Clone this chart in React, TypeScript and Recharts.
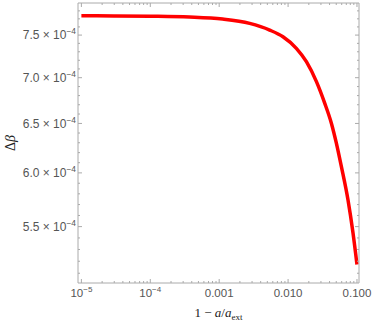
import { Line, LineChart, XAxis, YAxis } from "recharts";

// 1 - a/a_ext (log axis)
const oneMinusA = [
  1e-5, 3e-5, 1e-4, 3.7e-4, 1.12e-3, 2.77e-3, 5.41e-3, 8.43e-3, 1.318e-2,
  1.845e-2, 2.58e-2, 3.4e-2, 4.25e-2, 5.02e-2, 5.94e-2, 7.4e-2, 8.75e-2, 0.1,
];
// Δβ in units of 1e-4
const deltaBeta = [
  7.738, 7.736, 7.732, 7.722, 7.697, 7.643, 7.561, 7.479, 7.341, 7.184, 6.955,
  6.717, 6.503, 6.296, 6.061, 5.744, 5.445, 5.172,
];

const xMajorTicks = [1e-5, 1e-4, 1e-3, 1e-2, 1e-1];
const xTickLabels = ["10^-5", "10^-4", "0.001", "0.010", "0.100"];
const xMinorTicks = [1e-5, 1e-4, 1e-3, 1e-2].flatMap((d) =>
  [2, 3, 4, 5, 6, 7, 8, 9].map((m) => m * d)
);

const yMajorTicks = [5.5e-4, 6.0e-4, 6.5e-4, 7.0e-4, 7.5e-4];
const yTickLabels = ["5.5", "6.0", "6.5", "7.0", "7.5"];
const yMinorTicks = [
  5.1, 5.2, 5.3, 5.4, 5.6, 5.7, 5.8, 5.9, 6.1, 6.2, 6.3, 6.4, 6.6, 6.7, 6.8,
  6.9, 7.1, 7.2, 7.3, 7.4, 7.6, 7.7, 7.8,
].map((v) => v * 1e-4);

const data = oneMinusA.map((x, i) => ({ x, y: deltaBeta[i] * 1e-4 }));

const xTicks = [...xMajorTicks, ...xMinorTicks].sort((a, b) => a - b);
const yTicks = [...yMajorTicks, ...yMinorTicks].sort((a, b) => a - b);

const FRAME = "#aaaaaa";
const LABEL = "#555555";
const TICK_FONT = "'Liberation Sans', Arial, sans-serif";

const majorIndex = (list: number[], v: number) =>
  list.findIndex((m) => Math.abs(m - v) / m < 1e-6);

function PowerText({
  x, y, label, anchor, size,
}: { x: number; y: number; label: string; anchor: string; size: number }) {
  const [base, exp] = label.split("^");
  return (
    <text x={x} y={y} textAnchor={anchor} fill={LABEL} fontSize={size} fontFamily={TICK_FONT}>
      <tspan>{base}</tspan>
      {exp && (
        <tspan dy={-size * 0.42} fontSize={size * 0.7}>
          {exp.replace("-", "\u2212")}
        </tspan>
      )}
    </text>
  );
}

function BottomTick(props: any) {
  const { x, y, payload } = props;
  const idx = majorIndex(xMajorTicks, payload.value);
  return (
    <g>
      <line x1={x} x2={x} y1={y} y2={y - (idx >= 0 ? 4 : 2)} stroke={FRAME} />
      {idx >= 0 && (
        <PowerText x={x} y={y + 14} label={xTickLabels[idx]} anchor="middle" size={11.5} />
      )}
    </g>
  );
}

function TopTick(props: any) {
  const { x, y, payload } = props;
  const idx = majorIndex(xMajorTicks, payload.value);
  return <line x1={x} x2={x} y1={y} y2={y + (idx >= 0 ? 4 : 2)} stroke={FRAME} />;
}

function LeftTick(props: any) {
  const { x, y, payload } = props;
  const idx = majorIndex(yMajorTicks, payload.value);
  return (
    <g>
      <line x1={x} x2={x + (idx >= 0 ? 4 : 2)} y1={y} y2={y} stroke={FRAME} />
      {idx >= 0 && (
        <PowerText
          x={x - 2}
          y={y + 4.3}
          label={`${yTickLabels[idx]} \u00d7 10^-4`}
          anchor="end"
          size={12}
        />
      )}
    </g>
  );
}

function RightTick(props: any) {
  const { x, y, payload } = props;
  const idx = majorIndex(yMajorTicks, payload.value);
  return <line x1={x} x2={x - (idx >= 0 ? 4 : 2)} y1={y} y2={y} stroke={FRAME} />;
}

function XTitle() {
  return (
    <text x={218.5} y={316.5} textAnchor="middle" fontSize={13} fontFamily="'Liberation Serif', serif" fill="#222">
      <tspan>1 − </tspan>
      <tspan fontStyle="italic">a</tspan>
      <tspan>/</tspan>
      <tspan fontStyle="italic">a</tspan>
      <tspan dy={3} fontSize={9}>ext</tspan>
    </text>
  );
}

function YTitle() {
  return (
    <text
      x={0}
      y={0}
      transform="translate(15, 143) rotate(-90)"
      textAnchor="middle"
      fontSize={14}
      fontFamily="'Liberation Serif', serif"
      fill="#222"
    >
      <tspan>Δ</tspan>
      <tspan fontStyle="italic">β</tspan>
    </text>
  );
}

export default function App() {
  const xDomain = [8.93e-6, 0.107];
  const yDomain = [5.02e-4, 7.9e-4];
  return (
    <div style={{ position: "absolute", left: 0, top: 0, width: 374, height: 323, background: "#fff" }}>
      <LineChart width={374} height={323} data={data} margin={{ top: 0, right: 0, bottom: 0, left: 0 }}>
        <XAxis
          dataKey="x"
          type="number"
          scale="log"
          domain={xDomain}
          allowDataOverflow
          ticks={xTicks}
          interval={0}
          tickSize={0}
          tickMargin={0}
          tickLine={false}
          tick={<BottomTick />}
          axisLine={{ stroke: FRAME }}
          height={40}
          label={<XTitle />}
        />
        <XAxis
          xAxisId="top"
          orientation="top"
          dataKey="x"
          type="number"
          scale="log"
          domain={xDomain}
          allowDataOverflow
          ticks={xTicks}
          interval={0}
          tickSize={0}
          tickMargin={0}
          tickLine={false}
          tick={<TopTick />}
          axisLine={{ stroke: FRAME }}
          height={3}
        />
        <YAxis
          type="number"
          scale="log"
          domain={yDomain}
          allowDataOverflow
          ticks={yTicks}
          interval={0}
          tickSize={0}
          tickMargin={0}
          tickLine={false}
          tick={<LeftTick />}
          axisLine={{ stroke: FRAME }}
          width={78}
          label={<YTitle />}
        />
        <YAxis
          yAxisId="right"
          orientation="right"
          type="number"
          scale="log"
          domain={yDomain}
          allowDataOverflow
          ticks={yTicks}
          interval={0}
          tickSize={0}
          tickMargin={0}
          tickLine={false}
          tick={<RightTick />}
          axisLine={{ stroke: FRAME }}
          width={15}
        />
        <Line
          type="monotone"
          dataKey="y"
          stroke="#ff0000"
          strokeWidth={3.5}
          dot={false}
          isAnimationActive={false}
        />
      </LineChart>
    </div>
  );
}
